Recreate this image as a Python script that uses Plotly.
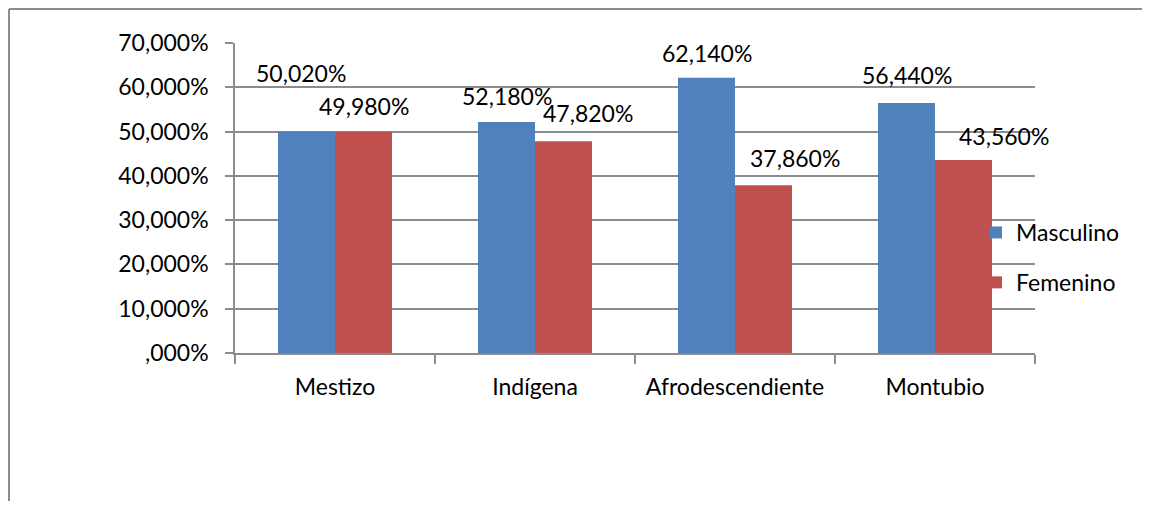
import plotly.graph_objects as go

categories = ["Mestizo", "Indígena", "Afrodescendiente", "Montubio"]
masculino = [50.02, 52.18, 62.14, 56.44]
femenino = [49.98, 47.82, 37.86, 43.56]
y_ticks = [0, 10, 20, 30, 40, 50, 60, 70]
y_tick_labels = [",000%", "10,000%", "20,000%", "30,000%", "40,000%", "50,000%", "60,000%", "70,000%"]

# manual nudges of the data labels (px), as placed in the original
masc_label_dx = [-6, 0, 0, 0]
masc_label_dy = [58, 26, 25, 28]
fem_label_dx = [0, 24, 31, 40]
fem_label_dy = [26, 28, 27, 24]

BLUE = "#4F81BD"
RED = "#C0504D"
GRID = "#8c8c8c"
FONT = "Lato"

# the page body adds an 8px margin, so the figure is shrunk to fit the window
W, H = 1134, 493
L, R, T = 227, W - 227 - 800, 35
pw, ph = 800, 310
B = H - T - ph
BARGAP = 0.43


def fmt(v):
    return f"{v:.3f}".replace(".", ",") + "%"


fig = go.Figure()
fig.add_trace(go.Bar(x=categories, y=masculino, name="Masculino",
                     marker=dict(color=BLUE, line=dict(width=0)), legendgroup="m"))
fig.add_trace(go.Bar(x=categories, y=femenino, name="Femenino",
                     marker=dict(color=RED, line=dict(width=0)), legendgroup="f"))

# half distance between the two bars of a group, in pixels
cat_px = pw / len(categories)
half = (1 - BARGAP) * cat_px / 4

for i, cat in enumerate(categories):
    fig.add_annotation(x=cat, y=masculino[i], text=fmt(masculino[i]), showarrow=False,
                       xshift=-half + masc_label_dx[i], yshift=masc_label_dy[i],
                       yanchor="middle", font=dict(family=FONT, size=23, color="black"))
    fig.add_annotation(x=cat, y=femenino[i], text=fmt(femenino[i]), showarrow=False,
                       xshift=half + fem_label_dx[i], yshift=fem_label_dy[i],
                       yanchor="middle", font=dict(family=FONT, size=23, color="black"))

# outer chart frame: only the left and top edges are inside the picture
x_left = (1 - L) / pw
y_top = (H - B - 1) / ph
fig.add_shape(type="line", xref="paper", yref="paper",
              x0=x_left, x1=x_left, y0=(H - B - (H + 20)) / ph, y1=y_top,
              line=dict(color=GRID, width=2), layer="below")
fig.add_shape(type="line", xref="paper", yref="paper",
              x0=x_left, x1=(W + 20 - L) / pw, y0=y_top, y1=y_top,
              line=dict(color=GRID, width=2), layer="below")

fig.update_layout(
    width=W, height=H,
    margin=dict(l=L, r=R, t=T, b=B, autoexpand=False),
    plot_bgcolor="white", paper_bgcolor="white",
    barmode="group", bargap=BARGAP, bargroupgap=0,
    font=dict(family=FONT, size=23, color="black"),
    showlegend=True,
    legend=dict(x=(976 - 8 - L) / pw, xanchor="left", y=(345.5 - 203.5) / ph, yanchor="top",
                bgcolor="rgba(0,0,0,0)", tracegroupgap=17, font=dict(size=23)),
    xaxis=dict(range=[-0.5, len(categories) - 0.5], showline=True, linecolor=GRID,
               linewidth=1.5, ticks="outside",
               tickson="boundaries", ticklen=9, tickcolor=GRID, tickwidth=1.5,
               showgrid=False, ticklabelstandoff=13),
    yaxis=dict(range=[0, 70], tickvals=y_ticks, ticktext=y_tick_labels,
               showline=True, linecolor=GRID, linewidth=1.5, ticks="outside",
               ticklen=8, tickcolor=GRID, tickwidth=1.5,
               showgrid=True, gridcolor=GRID, gridwidth=1.5,
               zeroline=False, ticklabelstandoff=12),
)

fig.write_html("out.html")
